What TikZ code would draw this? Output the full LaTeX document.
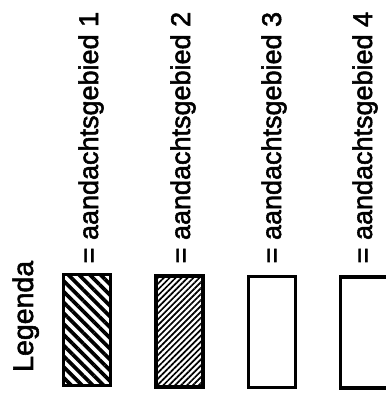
\documentclass[tikz,border=0pt]{standalone}
\usepackage{fontspec}
\setmainfont{Liberation Sans}
\newfontfamily\thickfont{Liberation Sans}[FakeBold=2]
\usetikzlibrary{patterns.meta}
\begin{document}
\begin{tikzpicture}[x=1pt,y=-1pt,
  lbl/.style={rotate=90, anchor=base west, inner sep=0pt, font=\thickfont\fontsize{27}{30}\selectfont},
  ttl/.style={rotate=90, anchor=base west, inner sep=0pt, font=\thickfont\fontsize{28.5}{32}\selectfont},
  box/.style={draw=black, line width=3.2pt, minimum width=47pt, minimum height=111pt, inner sep=0pt, outer sep=0pt},
  hatchA/.style={pattern={Lines[angle=-45, distance=7.6pt, line width=3.8pt]}},
  hatchB/.style={pattern={Lines[angle=45, distance=4.2pt, line width=1.7pt]}}
]
\useasboundingbox (0,0) rectangle (386,400);
\clip (0,0) rectangle (386,400);
\node[ttl] (legenda) at (33,372) {Legenda};
\node[box, hatchA] (r1) at (87,330) {};
\node[box, hatchB] (r2) at (179.5,331.5) {};
\node[box] (r3) at (272,332) {};
\node[box] (r4) at (364,332.5) {};
\node[lbl] (t1) at (98,263.5) {= aandachtsgebied 1};
\node[lbl] (t2) at (190,263.5) {= aandachtsgebied 2};
\node[lbl] (t3) at (281,263.5) {= aandachtsgebied 3};
\node[lbl] (t4) at (372,263.5) {= aandachtsgebied 4};
\end{tikzpicture}
\end{document}
